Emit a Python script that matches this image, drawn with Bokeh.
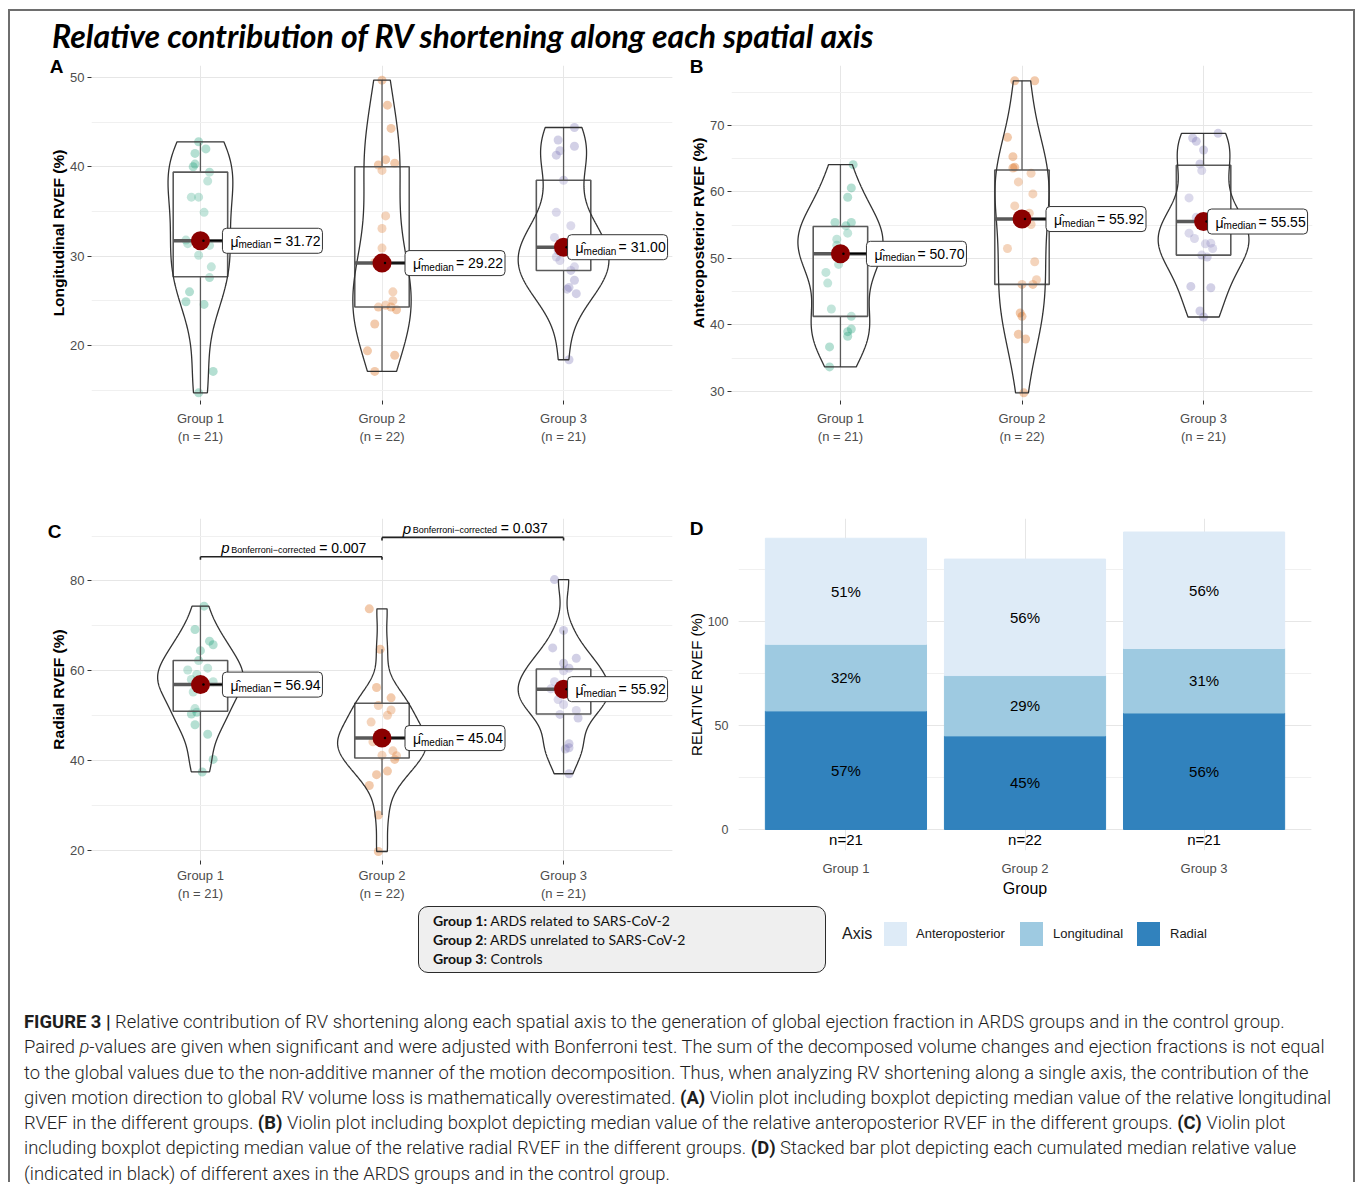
import numpy as np
from bokeh.plotting import figure
from bokeh.models import Range1d, FixedTicker, SingleIntervalTicker, LinearAxis, Div, ColumnDataSource
from bokeh.layouts import column, row
from bokeh.embed import file_html
from bokeh.resources import INLINE
from bokeh.core.properties import value

# ---------------- data ----------------
groups = ["Group 1", "Group 2", "Group 3"]
group_n = [21, 22, 21]

# Panel A : longitudinal RVEF (%)
long_g1 = [42.8, 42.0, 41.5, 40.3, 40.0, 39.4, 38.4, 36.6, 36.6, 34.9, 31.8, 31.4, 31.2, 30.1, 28.8, 27.6, 26.0, 24.9, 24.6, 17.1, 14.7]
long_g2 = [49.7, 46.9, 44.3, 40.8, 40.2, 40.4, 39.6, 34.5, 33.1, 30.9, 29.3, 26.0, 25.0, 24.3, 24.5, 24.3, 24.0, 22.4, 19.4, 18.9, 17.1, 29.1]
long_g3 = [44.4, 43.0, 41.8, 41.3, 42.3, 38.5, 34.9, 33.4, 32.1, 29.9, 28.8, 28.4, 27.3, 26.5, 26.3, 25.8, 18.4, 31.0, 30.6, 31.5, 29.5]
long_jit_g1 = [-0.01, 0.03, -0.03, -0.03, -0.04, 0.05, 0.04, -0.05, -0.01, 0.02, -0.08, -0.07, 0.05, -0.01, 0.06, 0.05, -0.06, -0.08, 0.02, 0.07, -0.01]
long_jit_g2 = [0.0, 0.03, 0.05, 0.02, -0.02, 0.07, 0.0, 0.02, 0.0, 0.0, -0.04, 0.06, 0.06, -0.02, 0.02, 0.05, 0.08, -0.04, -0.08, 0.07, -0.04, -0.01]
long_jit_g3 = [0.06, -0.03, -0.02, -0.04, 0.06, 0.0, -0.04, 0.04, -0.05, -0.04, 0.06, 0.04, 0.06, 0.03, 0.02, 0.07, 0.03, 0.0, -0.03, 0.02, -0.02]
long_q1 = [27.7, 24.3, 28.4]
long_median = [31.72, 29.22, 31.00]
long_q3 = [39.4, 40.0, 38.5]
long_whisk_lo = [14.7, 17.1, 18.4]
long_whisk_hi = [42.7, 49.7, 44.4]

# Panel B : anteroposterior RVEF (%)
ap_g1 = [64.1, 60.6, 59.2, 55.4, 54.9, 55.4, 53.8, 52.9, 52.0, 49.1, 47.9, 46.3, 42.4, 41.3, 39.4, 39.0, 38.3, 36.7, 33.7, 50.8, 50.7]
ap_g2 = [76.7, 76.7, 68.2, 65.3, 63.7, 63.6, 62.8, 61.5, 59.7, 57.9, 56.8, 55.1, 51.5, 49.5, 46.8, 46.1, 46.1, 41.8, 41.3, 38.6, 37.9, 29.8]
ap_g3 = [68.8, 68.1, 67.6, 66.3, 64.2, 63.2, 59.1, 53.8, 52.2, 52.3, 51.5, 50.5, 50.2, 45.8, 45.6, 42.1, 41.2, 55.5, 56.2, 54.9, 53.0]
ap_jit_g1 = [0.07, 0.06, 0.04, -0.03, 0.03, 0.06, 0.04, -0.02, -0.02, -0.01, -0.08, -0.07, -0.05, 0.06, 0.06, 0.04, 0.04, -0.06, -0.06, -0.02, 0.02]
ap_jit_g2 = [-0.04, 0.07, -0.08, -0.05, -0.04, -0.05, 0.05, -0.02, 0.06, -0.04, 0.04, 0.05, -0.08, 0.07, 0.08, 0.0, 0.06, -0.01, 0.0, -0.02, 0.02, 0.01]
ap_jit_g3 = [0.08, -0.06, -0.04, 0.0, -0.02, -0.01, -0.08, -0.08, 0.01, 0.04, 0.05, -0.01, 0.02, -0.07, 0.04, -0.02, 0.0, 0.0, -0.04, 0.03, -0.05]
ap_q1 = [41.3, 46.1, 50.5]
ap_median = [50.70, 55.92, 55.55]
ap_q3 = [54.8, 63.3, 64.0]
ap_whisk_lo = [33.7, 29.8, 41.2]
ap_whisk_hi = [64.1, 76.7, 68.8]

# Panel C : radial RVEF (%)
rad_g1 = [74.4, 69.2, 66.6, 65.8, 64.5, 62.3, 60.2, 60.6, 59.2, 58.1, 57.6, 55.3, 51.6, 50.8, 50.4, 48.0, 45.9, 40.3, 37.5, 57.0, 56.5]
rad_g2 = [73.8, 64.8, 56.3, 54.0, 52.3, 51.3, 50.1, 48.6, 44.2, 41.2, 42.2, 41.1, 40.3, 37.7, 36.9, 34.5, 27.9, 19.8, 45.0, 45.5, 44.8, 46.0]
rad_g3 = [80.3, 69.0, 65.1, 62.8, 61.7, 60.6, 60.0, 57.6, 55.9, 53.6, 52.5, 51.2, 50.3, 49.5, 43.8, 42.9, 42.6, 37.1, 56.0, 56.5, 55.5]
rad_jit_g1 = [0.02, -0.03, 0.05, 0.07, 0.0, -0.01, -0.07, 0.04, -0.02, -0.05, 0.07, -0.04, -0.03, -0.02, -0.05, -0.03, 0.04, 0.07, 0.01, -0.02, 0.01]
rad_jit_g2 = [-0.07, -0.01, -0.03, 0.05, -0.02, 0.05, 0.03, -0.06, -0.05, 0.0, 0.06, 0.08, 0.07, 0.03, -0.03, -0.07, -0.02, -0.02, -0.02, 0.02, 0.01, -0.01]
rad_jit_g3 = [-0.05, 0.0, -0.06, 0.07, 0.0, 0.03, 0.0, -0.05, -0.02, -0.03, 0.0, 0.07, -0.02, 0.08, 0.03, 0.03, 0.01, 0.03, -0.07, 0.04, 0.02]
rad_q1 = [51.0, 40.6, 50.4]
rad_median = [56.94, 45.04, 55.92]
rad_q3 = [62.3, 52.8, 60.4]
rad_whisk_lo = [37.6, 27.9, 37.1]
rad_whisk_hi = [74.4, 64.8, 69.0]

# pairwise comparisons shown in panel C
pval_pairs = [(1, 2), (2, 3)]
pval_text = ["0.007", "0.037"]

# Panel D : relative RVEF (%) stacked
axis_names = ["Radial", "Longitudinal", "Anteroposterior"]
rel_radial = [57, 45, 56]
rel_longitudinal = [32, 29, 31]
rel_antero = [51, 56, 56]

# ---------------- style ----------------
FONT = "Liberation Sans"
GCOL = ["#1b9e77", "#d95f02", "#7570b3"]
AXCOL = ["#3182bd", "#9ecae1", "#deebf7"]
FW = 581
SP = FW / 3.2
W_ALL = 1343


def kde(v, n=512):
    v = np.asarray(v, dtype=float)
    sd = v.std(ddof=1)
    q75, q25 = np.percentile(v, [75, 25])
    bw = 0.9 * min(sd, (q75 - q25) / 1.34) * len(v) ** -0.2
    ys = np.linspace(v.min(), v.max(), n)
    d = np.exp(-0.5 * ((ys[:, None] - v[None, :]) / bw) ** 2).sum(1) / (len(v) * bw * np.sqrt(2 * np.pi))
    return ys, d


def style_axes(p, interval):
    p.outline_line_color = None
    p.background_fill_color = "white"
    p.border_fill_color = "white"
    yt = SingleIntervalTicker(interval=interval, num_minor_ticks=2)
    p.yaxis.ticker = yt
    p.ygrid.ticker = yt
    p.xaxis.ticker = FixedTicker(ticks=[1, 2, 3])
    p.xgrid.ticker = FixedTicker(ticks=[1, 2, 3])
    p.ygrid.grid_line_color = "#e6e6e6"
    p.ygrid.minor_grid_line_color = "#f0f0f0"
    p.xgrid.grid_line_color = "#e6e6e6"
    for ax in p.axis:
        ax.axis_line_color = None
        ax.major_tick_line_color = "#333333"
        ax.major_tick_out = 4
        ax.major_tick_in = 0
        ax.minor_tick_line_color = None
        ax.major_label_text_font = FONT
        ax.major_label_text_font_size = "13px"
        ax.major_label_text_color = "#4d4d4d"
        ax.axis_label_text_font = FONT
        ax.axis_label_text_color = "black"


def add_letter(p, txt, yval, standoff):
    """Panel letter drawn as the only label of an extra, line-less left axis."""
    ax = LinearAxis(ticker=FixedTicker(ticks=[yval]), major_label_overrides={yval: txt})
    ax.axis_line_color = None
    ax.major_tick_line_color = None
    ax.minor_tick_line_color = None
    ax.major_tick_out = 0
    ax.major_tick_in = 0
    ax.major_label_standoff = standoff
    ax.major_label_text_font = FONT
    ax.major_label_text_font_size = "19px"
    ax.major_label_text_font_style = "bold"
    ax.major_label_text_color = "black"
    p.add_layout(ax, "left")


def violin_panel(vals, jits, q1, med, q3, lo, hi, ylab, yr, interval, lab_off,
                 top, fh, bottom, left, right, xstand):
    p = figure(frame_width=FW, frame_height=fh, x_range=Range1d(0.4, 3.6), y_range=Range1d(*yr),
               min_border_left=left, min_border_right=right, min_border_top=top,
               min_border_bottom=bottom, output_backend="svg", toolbar_location=None)
    style_axes(p, interval)
    p.xaxis.major_label_overrides = {i + 1: f"{g}\n(n = {n})" for i, (g, n) in enumerate(zip(groups, group_n))}
    p.xaxis.major_label_standoff = xstand
    p.yaxis.major_label_standoff = 3
    p.yaxis.axis_label = ylab
    p.yaxis.axis_label_text_font_style = "bold"
    p.yaxis.axis_label_text_font_size = "15.5px"
    p.yaxis.axis_label_standoff = 0
    dens = [kde(v) for v in vals]
    dmax = max(d.max() for _, d in dens)
    LW = 100
    for i in range(3):
        g = i + 1
        ys, d = dens[i]
        hw = 0.25 * d / dmax
        p.scatter(g + np.array(jits[i]), vals[i], size=9, fill_color=GCOL[i], fill_alpha=0.33, line_color=None)
        p.segment([g, g], [q3[i], q1[i]], [g, g], [hi[i], lo[i]], line_color="#595959", line_width=1.3)
        p.quad(left=[g - 0.15], right=[g + 0.15], bottom=[q1[i]], top=[q3[i]],
               fill_color="white", fill_alpha=0.2, line_color="#595959", line_width=1.6)
        p.patch(np.concatenate([g - hw, (g + hw)[::-1]]), np.concatenate([ys, ys[::-1]]),
                fill_alpha=0, line_color="#333333", line_width=1.3)
        p.segment([g - 0.15], [med[i]], [g + 0.15], [med[i]], line_color="#595959", line_width=3.5)
        lx = g + lab_off[i] / SP
        p.segment([g], [med[i]], [lx], [med[i]], line_color="black", line_width=1.5)
        p.scatter([g], [med[i]], size=19, fill_color="#8b0000", line_color=None)
        p.scatter([g + 3 / SP], [med[i]], size=2.5, fill_color="black", line_color=None)
        kw = dict(width=LW, height=25, width_units="screen", height_units="screen",
                  fill_color="white", line_color="#333333", line_width=1)
        try:
            p.rect([lx + LW / 2 / SP], [med[i]], border_radius=4, **kw)
        except Exception:
            p.rect([lx + LW / 2 / SP], [med[i]], **kw)
        tk = dict(text_baseline="middle", text_align="left", text_color="black", text_font=value(FONT))
        p.text([lx], [med[i]], text=["\u03bc\u0302"], x_offset=8, y_offset=1, text_font_size="14px", **tk)
        p.text([lx], [med[i]], text=["median"], x_offset=16, y_offset=4, text_font_size="10px", **tk)
        p.text([lx], [med[i]], text=[f"= {med[i]:.2f}"], x_offset=51, y_offset=0, text_font_size="14px", **tk)
    return p


# ---------------- panels ----------------
pA = violin_panel([long_g1, long_g2, long_g3], [long_jit_g1, long_jit_g2, long_jit_g3],
                  long_q1, long_median, long_q3, long_whisk_lo, long_whisk_hi,
                  "Longitudinal RVEF (%)", (13.84, 51.34), 10, [22, 23, 4],
                  top=11, fh=335, bottom=70, left=81, right=8, xstand=6)
add_letter(pA, "A", 51.28, -16)

pB = violin_panel([ap_g1, ap_g2, ap_g3], [ap_jit_g1, ap_jit_g2, ap_jit_g3],
                  ap_q1, ap_median, ap_q3, ap_whisk_lo, ap_whisk_hi,
                  "Anteroposterior RVEF (%)", (28.65, 79.0), 10, [26, 24, 4],
                  top=11, fh=335, bottom=70, left=51, right=41, xstand=6)
add_letter(pB, "B", 78.92, -16)

pC = violin_panel([rad_g1, rad_g2, rad_g3], [rad_jit_g1, rad_jit_g2, rad_jit_g3],
                  rad_q1, rad_median, rad_q3, rad_whisk_lo, rad_whisk_hi,
                  "Radial RVEF (%)", (17.8, 93.9), 20, [22, 23, 4],
                  top=45, fh=342, bottom=49, left=81, right=8, xstand=3)
add_letter(pC, "C", 91.08, -14)

bracket_y = [85.4, 89.7]
for (a, b), txt, by in zip(pval_pairs, pval_text, bracket_y):
    pC.segment([a, a, b], [by, by, by], [b, a, b], [by, by - 0.7, by - 0.7], line_color="#222222", line_width=1.6)
    mid = (a + b) / 2
    tk = dict(text_baseline="alphabetic", text_align="left", text_color="black", text_font=value(FONT))
    pC.text([mid], [by], text=["p"], x_offset=-70, y_offset=-9, text_font_size="15px",
            text_font_style="italic", **tk)
    pC.text([mid], [by], text=["Bonferroni\u2212corrected"], x_offset=-60, y_offset=-7,
            text_font_size="9px", **tk)
    pC.text([mid], [by], text=[f"= {txt}"], x_offset=28, y_offset=-9, text_font_size="14px", **tk)

# Panel D
pD = figure(frame_width=573, frame_height=332, x_range=Range1d(0.4, 3.6), y_range=Range1d(-10.1, 149.5),
            min_border_left=58, min_border_right=42, min_border_top=48, min_border_bottom=55,
            output_backend="svg", toolbar_location=None)
style_axes(pD, 50)
for ax in pD.axis:
    ax.major_tick_line_color = None
    ax.major_tick_out = 0
pD.xaxis.major_label_overrides = {i + 1: g for i, g in enumerate(groups)}
pD.xaxis.major_label_standoff = 10
pD.xaxis.axis_label = "Group"
pD.xaxis.axis_label_text_font_size = "16px"
pD.xaxis.axis_label_text_font_style = "normal"
pD.xaxis.axis_label_standoff = 1
pD.yaxis.axis_label = "RELATIVE RVEF (%)"
pD.yaxis.axis_label_text_font_size = "15px"
pD.yaxis.axis_label_text_font_style = "normal"
pD.yaxis.major_label_standoff = 6
pD.yaxis.axis_label_standoff = 0
pD.yaxis.major_label_text_font_size = "12.5px"

srcD = ColumnDataSource(dict(x=[1, 2, 3], Radial=rel_radial, Longitudinal=rel_longitudinal,
                             Anteroposterior=rel_antero))
pD.vbar_stack(axis_names, x="x", width=0.9, fill_color=AXCOL, line_color=AXCOL, source=srcD)
stack = np.array([rel_radial, rel_longitudinal, rel_antero], dtype=float)
bottoms = np.vstack([np.zeros(3), np.cumsum(stack, axis=0)[:-1]])
mids = bottoms + stack / 2
xs = np.tile([1, 2, 3], 3)
pD.text(xs, mids.ravel(), text=[f"{int(v)}%" for v in stack.ravel()], text_align="center",
        text_baseline="middle", text_font_size="15px", text_color="black", text_font=value(FONT))
pD.text([1, 2, 3], [-5, -5, -5], text=[f"n={n}" for n in group_n], text_align="center",
        text_baseline="middle", text_font_size="15px", text_color="black", text_font=value(FONT))
add_letter(pD, "D", 144.93, -19)

# ---------------- page parts ----------------
title = Div(text=(
    f"<div style='position:relative;width:{W_ALL}px;height:43px;'>"
    "<span style=\"position:absolute;left:42px;top:9px;font-family:Lato;font-weight:bold;"
    "font-style:italic;font-size:32px;line-height:32px;white-space:nowrap;color:#000;\">"
    "Relative contribution of RV shortening along each spatial axis</span></div>"),
    width=W_ALL, height=43, margin=0)

sw = lambda left, col: (f"<div style='position:absolute;left:{left}px;top:16px;width:23px;height:24px;"
                        f"background:{col};'></div>")
lab = lambda left, txt, fs: (f"<div style='position:absolute;left:{left}px;top:19px;line-height:18px;"
                             f"font-family:\"Liberation Sans\";font-size:{fs}px;color:#1a1a1a;"
                             f"white-space:nowrap;'>{txt}</div>")
legend_html = (
    f"<div style='position:relative;width:{W_ALL}px;height:76px;'>"
    "<div style='position:absolute;left:408px;top:0px;width:408px;height:67px;box-sizing:border-box;"
    "border:1.5px solid #2b2b2b;border-radius:10px;background:#efefef;padding:4px 0 0 14px;"
    "font-family:Lato;font-size:14px;line-height:19px;color:#111;white-space:nowrap;'>"
    "<b>Group 1:</b> ARDS related to SARS-CoV-2<br><b>Group 2</b>: ARDS unrelated to SARS-CoV-2<br>"
    "<b>Group 3</b>: Controls</div>"
    + lab(832, "Axis", 16)
    + sw(874, AXCOL[2]) + lab(906, "Anteroposterior", 13)
    + sw(1010, AXCOL[1]) + lab(1043, "Longitudinal", 13)
    + sw(1127, AXCOL[0]) + lab(1160, "Radial", 13)
    + "</div>")
legend_div = Div(text=legend_html, width=W_ALL, height=76, margin=0)

B = "<b style='font-weight:700'>"
cap_lines = [
    f"{B}FIGURE 3 |</b> Relative contribution of RV shortening along each spatial axis to the generation of global ejection fraction in ARDS groups and in the control group.",
    "Paired <i>p</i>-values are given when significant and were adjusted with Bonferroni test. The sum of the decomposed volume changes and ejection fractions is not equal",
    "to the global values due to the non-additive manner of the motion decomposition. Thus, when analyzing RV shortening along a single axis, the contribution of the",
    f"given motion direction to global RV volume loss is mathematically overestimated. {B}(A)</b> Violin plot including boxplot depicting median value of the relative longitudinal",
    f"RVEF in the different groups. {B}(B)</b> Violin plot including boxplot depicting median value of the relative anteroposterior RVEF in the different groups. {B}(C)</b> Violin plot",
    f"including boxplot depicting median value of the relative radial RVEF in the different groups. {B}(D)</b> Stacked bar plot depicting each cumulated median relative value",
    "(indicated in black) of different axes in the ARDS groups and in the control group.",
]
caption = Div(text=(
    "<div style='padding:27px 0 0 14px;font-family:Roboto;font-weight:300;font-size:18.4px;"
    "line-height:25.3px;color:#1e1e1e;white-space:nowrap;'>" + "<br>".join(cap_lines) + "</div>"),
    width=W_ALL, height=200, margin=0)

layout = column(title, row(pA, pB), row(pC, pD), legend_div, caption, margin=(9, 0, 0, 8),
                styles={"border-top": "2px solid #6e6e6e", "border-left": "2px solid #6e6e6e",
                        "border-right": "2px solid #6e6e6e"})

open("out.html", "w").write(file_html(layout, INLINE))
